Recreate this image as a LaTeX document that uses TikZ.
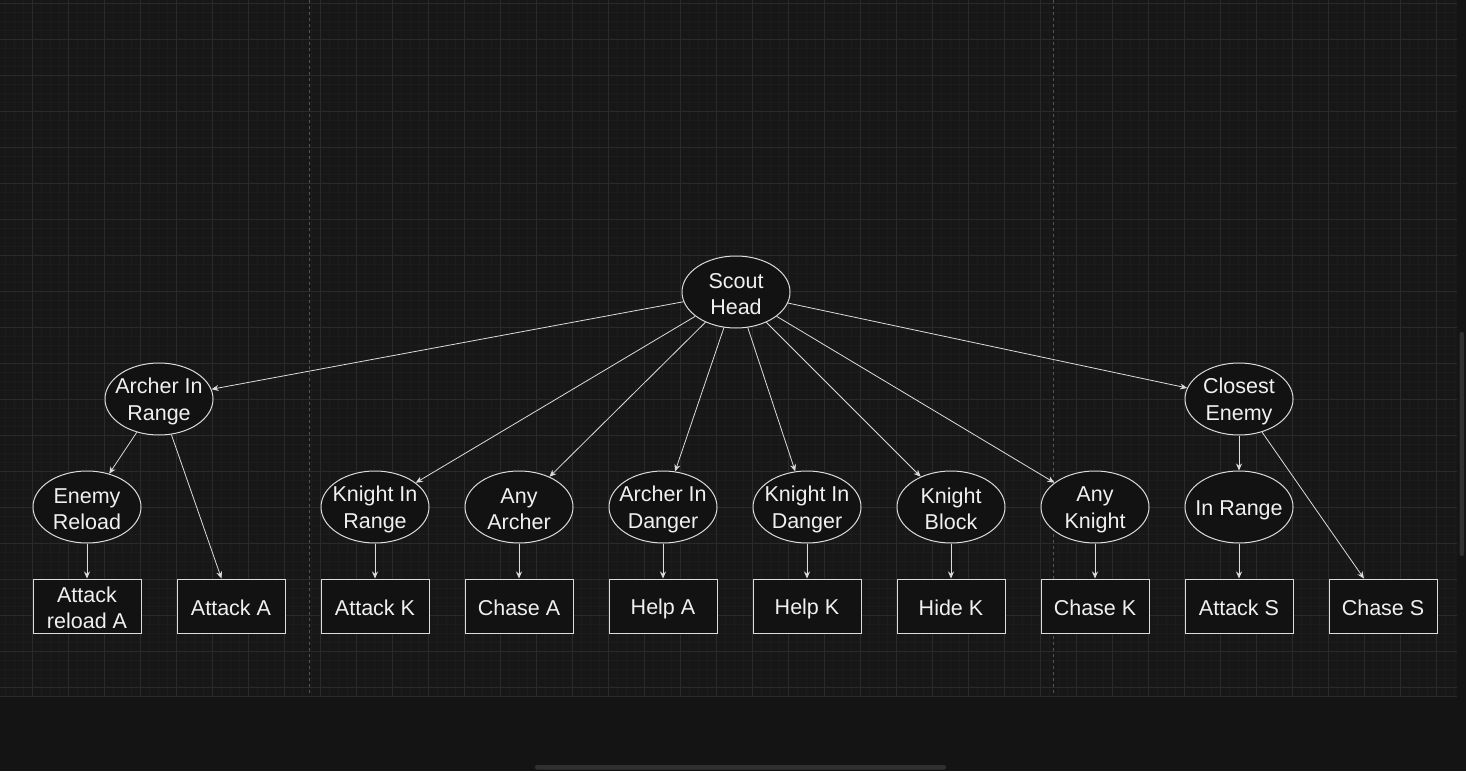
\documentclass[tikz,border=0pt]{standalone}
\usepackage{fontspec}
\setmainfont{Liberation Sans}
\usetikzlibrary{shapes.geometric,arrows.meta}
\definecolor{canvas}{HTML}{141414}
\definecolor{sheet}{HTML}{171717}
\definecolor{minorgrid}{HTML}{1C1C1C}
\definecolor{majorgrid}{HTML}{2A2A2A}
\definecolor{pageline}{HTML}{555555}
\definecolor{nodefill}{HTML}{121212}
\definecolor{nodeline}{HTML}{DCDCDC}
\definecolor{nodetext}{HTML}{F0F0F0}
\definecolor{thumb}{HTML}{303030}
% fixed line height for every text line
\newcommand{\lh}{\rule[-2.1pt]{0pt}{22.9pt}}

\begin{document}
\begin{tikzpicture}[x=1pt, y=-1pt,
    cond/.style={ellipse, draw=nodeline, fill=nodefill, line width=1pt,
        minimum width=108pt, minimum height=72pt, inner xsep=-12pt, inner ysep=-2pt,
        align=center, text=nodetext, font=\fontsize{21.5}{26.5}\selectfont},
    act/.style={rectangle, draw=nodeline, fill=nodefill, line width=1pt,
        minimum width=108pt, minimum height=54pt, inner sep=0pt,
        align=center, text=nodetext, font=\fontsize{21.5}{26.5}\selectfont},
    link/.style={draw=nodeline, line width=0.8pt, -{Stealth[length=7pt,width=6pt]}}]
    % canvas and grid
    \useasboundingbox[fill=canvas] (0,0) rectangle (1466,771);
    \fill[sheet] (0,0) rectangle (1457,696);
    \foreach \x in {5,14,...,1457} \draw[minorgrid, line width=0.6pt] (\x,0) -- (\x,696);
    \foreach \y in {3,12,...,696} \draw[minorgrid, line width=0.6pt] (0,\y) -- (1457,\y);
    \foreach \x in {32,68,...,1457} \draw[majorgrid, line width=0.8pt] (\x,0) -- (\x,696);
    \foreach \y in {3,39,...,696} \draw[majorgrid, line width=0.8pt] (0,\y) -- (1457,\y);
    \draw[majorgrid, line width=1pt] (0,696) -- (1457,696);
    \draw[pageline, dashed, line width=0.8pt] (309,0) -- (309,696);
    \draw[pageline, dashed, line width=0.8pt] (1053,0) -- (1053,696);
    \fill[thumb, rounded corners=2pt] (1459.5,332) rectangle (1464,556);
    \fill[thumb, rounded corners=2pt] (535,765) rectangle (946,769.5);

    % root
    \node[cond] (head) at (736,292) {\lh Scout\\\lh Head};

    % second level
    \node[cond] (archerrange) at (159,399) {\lh Archer In\\\lh Range};
    \node[cond] (closest) at (1239,399) {\lh Closest\\\lh Enemy};

    % third level
    \node[cond] (reload) at (87,507) {\lh Enemy\\\lh Reload};
    \node[cond] (knightrange) at (375,507) {\lh Knight In\\\lh Range};
    \node[cond] (anyarcher) at (519,507) {\lh Any\\\lh Archer};
    \node[cond] (archerdanger) at (663,507) {\lh Archer In\\\lh Danger};
    \node[cond] (knightdanger) at (807,507) {\lh Knight In\\\lh Danger};
    \node[cond] (knightblock) at (951,507) {\lh Knight\\\lh Block};
    \node[cond] (anyknight) at (1095,507) {\lh Any\\\lh Knight};
    \node[cond] (inrange) at (1239,507) {\lh In Range};

    % actions
    \node[act] (attackreload) at (87,606) {\lh Attack\\\lh reload A};
    \node[act] (attacka) at (231,606) {\lh Attack A};
    \node[act] (attackk) at (375,606) {\lh Attack K};
    \node[act] (chasea) at (519,606) {\lh Chase A};
    \node[act] (helpa) at (663,606) {\lh Help A};
    \node[act] (helpk) at (807,606) {\lh Help K};
    \node[act] (hidek) at (951,606) {\lh Hide K};
    \node[act] (chasek) at (1095,606) {\lh Chase K};
    \node[act] (attacks) at (1239,606) {\lh Attack S};
    \node[act] (chases) at (1383,606) {\lh Chase S};

    % links
    \foreach \t in {archerrange,knightrange,anyarcher,archerdanger,knightdanger,knightblock,anyknight,closest}
        \draw[link] (head) -- (\t);
    \draw[link] (archerrange) -- (reload);
    \draw[link] (archerrange) -- (attacka);
    \draw[link] (reload) -- (attackreload);
    \draw[link] (knightrange) -- (attackk);
    \draw[link] (anyarcher) -- (chasea);
    \draw[link] (archerdanger) -- (helpa);
    \draw[link] (knightdanger) -- (helpk);
    \draw[link] (knightblock) -- (hidek);
    \draw[link] (anyknight) -- (chasek);
    \draw[link] (closest) -- (inrange);
    \draw[link] (inrange) -- (attacks);
    \draw[link] (closest) -- (chases);
\end{tikzpicture}
\end{document}
